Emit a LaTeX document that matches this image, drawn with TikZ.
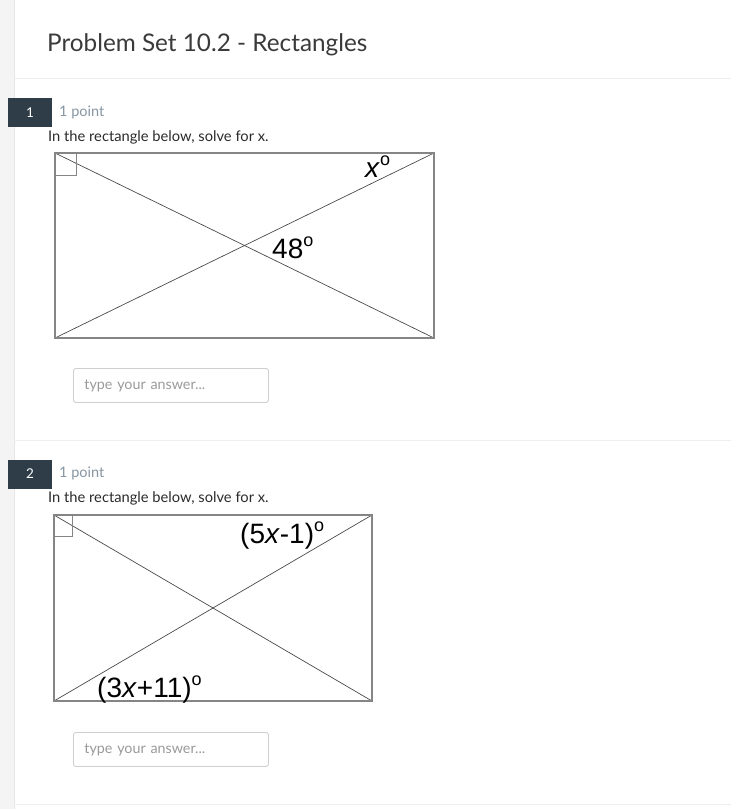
\documentclass[tikz,border=0pt]{standalone}
\usepackage{fontspec}
\setmainfont{Lato}
\newfontfamily\figfont{Liberation Sans}
\definecolor{stripgray}{HTML}{F4F4F4}
\definecolor{stripline}{HTML}{E6E6E6}
\definecolor{sepgray}{HTML}{EEEEEE}
\definecolor{titlegray}{HTML}{3A3A3A}
\definecolor{textdark}{HTML}{2B2B2B}
\definecolor{pointgray}{HTML}{8796A2}
\definecolor{numslate}{HTML}{2E3D48}
\definecolor{framegray}{HTML}{858585}
\definecolor{diaggray}{HTML}{4A4A4A}
\definecolor{boxgray}{HTML}{CFCFCF}
\definecolor{hintgray}{HTML}{9A9A9A}
\newcommand{\degsign}{\raisebox{0.42em}{\fontsize{18}{18}\selectfont o}}
\tikzset{
  numbox/.style={fill=numslate, text=white, minimum width=44, minimum height=29, inner sep=0pt, font=\fontsize{13.5}{15}\selectfont},
  pointtxt/.style={anchor=west, inner sep=0pt, text=pointgray, font=\fontsize{14.5}{16}\selectfont},
  asktxt/.style={anchor=west, inner sep=0pt, text=textdark, font=\fontsize{14.7}{16}\selectfont},
  ansbox/.style={draw=boxgray, line width=0.9pt, rounded corners=2.5pt, anchor=north west, minimum height=34, inner xsep=11, inner ysep=0pt, text width=173, align=left, text=hintgray, font=\fontsize{14.3}{15}\selectfont},
  frame/.style={draw=framegray, line width=1.6pt},
  diag/.style={draw=diaggray, line width=0.7pt},
  rightsq/.style={draw=framegray, line width=1pt},
  anglbl/.style={anchor=base west, inner sep=0pt, font=\figfont\fontsize{28}{30}\selectfont},
  sepline/.style={draw=sepgray, line width=1pt}
}
\begin{document}
\begin{tikzpicture}[x=1pt, y=-1pt]
  \useasboundingbox (0,0) rectangle (731,809);
  \fill[white] (0,0) rectangle (731,809);
  \fill[stripgray] (0,0) rectangle (14,809);
  \draw[stripline] (14,0) -- (14,809);

  \node[anchor=base west, inner sep=0pt, text=titlegray, font=\fontsize{24.3}{30}\selectfont] (title) at (47,51) {Problem Set 10.2 - Rectangles};
  \draw[sepline] (14,78) -- (731,78);

  % question 1
  \node[numbox] (num1) at (30,112.5) {1};
  \node[pointtxt] (pt1) at (59,112) {1 point};
  \node[asktxt] (ask1) at (48,137) {In the rectangle below, solve for x.};
  \coordinate (A1) at (55,153);
  \coordinate (B1) at (434,153);
  \coordinate (C1) at (434,338);
  \coordinate (D1) at (55,338);
  \draw[diag] (A1) -- (C1);
  \draw[diag] (B1) -- (D1);
  \draw[frame] (A1) rectangle (C1);
  \draw[rightsq] (A1) rectangle ++(21,22);
  \node[anglbl] (xang) at (365,177) {\textit{x}\degsign};
  \node[anglbl] (midang) at (272,258) {48\degsign};
  \node[ansbox] (ans1) at (73,368) {type your answer...};

  \draw[sepline] (14,440) -- (731,440);

  % question 2
  \node[numbox] (num2) at (30,474) {2};
  \node[pointtxt] (pt2) at (59,473.5) {1 point};
  \node[asktxt] (ask2) at (48,498) {In the rectangle below, solve for x.};
  \coordinate (A2) at (54,515);
  \coordinate (B2) at (372,515);
  \coordinate (C2) at (372,701);
  \coordinate (D2) at (54,701);
  \draw[diag] (A2) -- (C2);
  \draw[diag] (B2) -- (D2);
  \draw[frame] (A2) rectangle (C2);
  \draw[rightsq] (A2) rectangle ++(18,21);
  \node[anglbl] (topang) at (240,543) {(5\textit{x}-1)\degsign};
  \node[anglbl] (botang) at (97,697) {(3\textit{x}+11)\degsign};
  \node[ansbox] (ans2) at (73,732) {type your answer...};

  \draw[sepline] (14,804) -- (731,804);
\end{tikzpicture}
\end{document}
